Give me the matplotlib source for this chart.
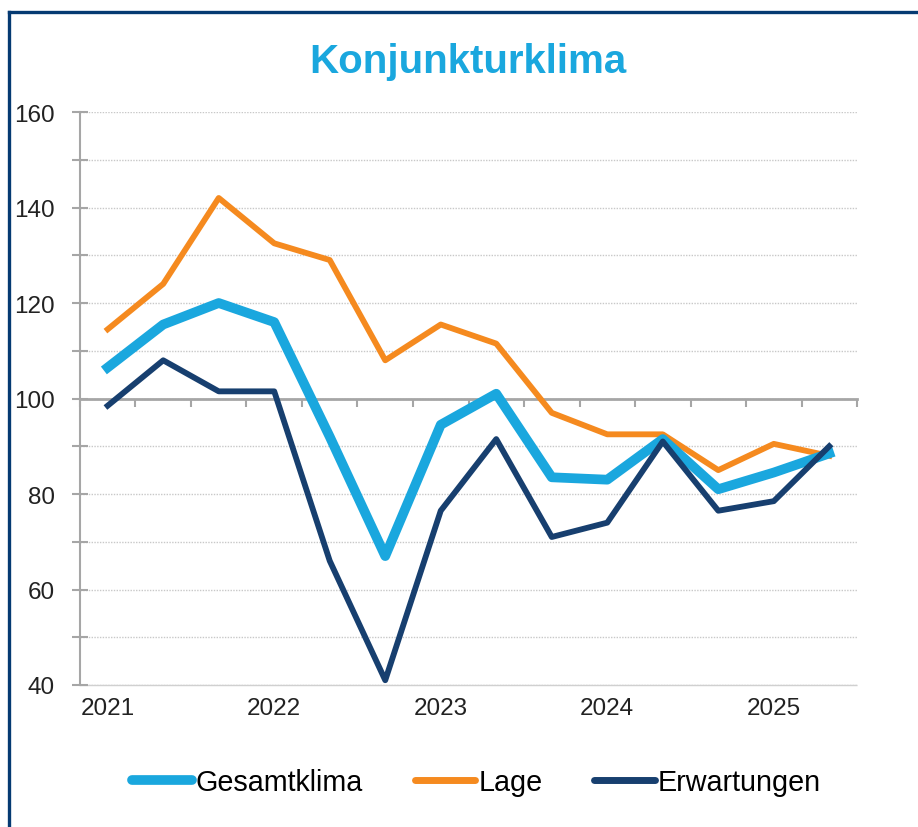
import numpy as np
import matplotlib as mpl
mpl.use("Agg")
import matplotlib.pyplot as plt
from matplotlib.lines import Line2D

mpl.rcParams['font.family'] = ['Liberation Sans', 'DejaVu Sans']

# Daten
jahre = ['2021', '2022', '2023', '2024', '2025']
gesamtklima = [106.5, 115.5, 120, 116, 92, 67, 94.5, 101, 83.5, 83, 91.5, 81, 84.5, 88.5]
lage = [114.5, 124, 142, 132.5, 129, 108, 115.5, 111.5, 97, 92.5, 92.5, 85, 90.5, 88]
erwartungen = [98.5, 108, 101.5, 101.5, 66, 41, 76.5, 91.5, 71, 74, 91, 76.5, 78.5, 90]

c_gesamt = '#1AA7DE'
c_lage = '#F58A1F'
c_erw = '#173F6F'
grau = '#A6A6A6'

fig = plt.figure(figsize=(9.18, 8.28), dpi=100)
ax = fig.add_axes([0.0871, 0.1715, 0.8465, 0.692])

x = np.arange(len(lage))
ax.plot(x, lage, color=c_lage, lw=4.2, label='Lage', zorder=3)
ax.plot(x, erwartungen, color=c_erw, lw=4.2, label='Erwartungen', zorder=4)
ax.plot(x, gesamtklima, color=c_gesamt, lw=7, label='Gesamtklima', zorder=3.5)

ax.set_xlim(-0.5, len(x) - 0.5)
ax.set_ylim(40, 160)

# y-Achse
ax.set_yticks(np.arange(40, 161, 20))
ax.set_yticks(np.arange(40, 161, 10), minor=True)
ax.tick_params(axis='y', which='both', direction='inout', length=12, width=1.5,
               color=grau, labelsize=17.5, labelcolor='#222222', pad=12)
ax.grid(axis='y', which='both', color='#C8C8C8', linestyle=(0, (1, 1)), lw=1)
ax.set_axisbelow(True)

# x-Achse bei 100
ax.spines['bottom'].set_position(('data', 100))
ax.spines['bottom'].set_color(grau)
ax.spines['bottom'].set_linewidth(2)
ax.spines['left'].set_color(grau)
ax.spines['left'].set_linewidth(1.5)
ax.spines['top'].set_visible(False)
ax.spines['right'].set_visible(False)
ax.set_xticks(np.arange(-0.5, len(x), 1))
ax.set_xticklabels([])
ax.tick_params(axis='x', direction='out', length=6, width=1.5, color=grau)

sec = ax.secondary_xaxis(0)
sec.set_xticks(x[::3], labels=jahre)
sec.tick_params(length=0, labelsize=17.5, labelcolor='#222222', pad=9)
sec.spines['bottom'].set_color('#D0D0D0')
sec.spines['bottom'].set_linestyle((0, (1, 1)))
sec.spines['bottom'].set_linewidth(1)

fig.text(0.51, 0.925, 'Konjunkturklima', ha='center', va='center',
         fontsize=29, fontweight='bold', color=c_gesamt)

handles = [Line2D([], [], color=c_gesamt, lw=7, solid_capstyle='round'),
           Line2D([], [], color=c_lage, lw=5, solid_capstyle='round'),
           Line2D([], [], color=c_erw, lw=5, solid_capstyle='round')]
fig.legend(handles, ['Gesamtklima', 'Lage', 'Erwartungen'], loc='center',
           bbox_to_anchor=(0.519, 0.054), ncol=3, frameon=False, fontsize=20.7,
           handlelength=2.1, handletextpad=0.12, columnspacing=1.8)

# Rahmen oben und links
fig.add_artist(Line2D([0.0098, 1], [0.9843, 0.9843], transform=fig.transFigure,
                      color='#053A72', lw=2.4))
fig.add_artist(Line2D([0.0098, 0.0098], [0, 0.9843], transform=fig.transFigure,
                      color='#053A72', lw=2.4))

fig.savefig('out.png', dpi=100)
